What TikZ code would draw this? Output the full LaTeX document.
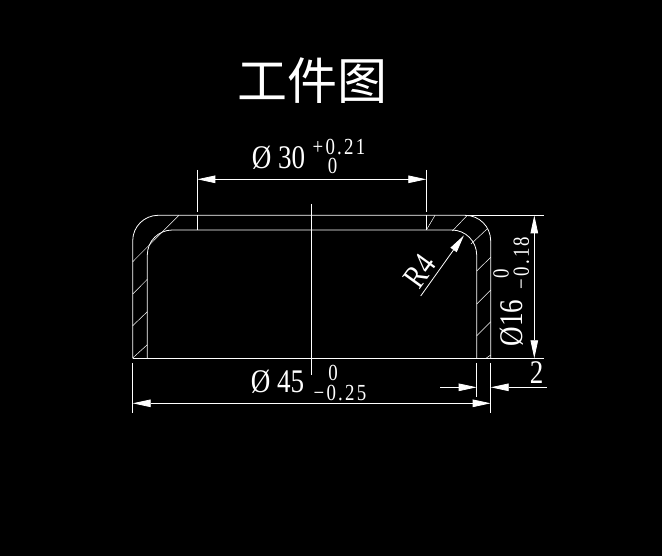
\documentclass[tikz,border=0pt]{standalone}
\usepackage{fontspec}
\setmainfont{Liberation Serif}
\newfontfamily\cjk{Noto Sans CJK SC}
\newfontfamily\tolfont[LetterSpace=12]{Liberation Serif}
\usetikzlibrary{arrows.meta}
\tikzset{
    dimtip/.style={-{Stealth[length=18pt,width=7.5pt,inset=0pt]}},
    dimtips/.style={{Stealth[length=18pt,width=7.5pt,inset=0pt]}-{Stealth[length=18pt,width=7.5pt,inset=0pt]}},
    hatch/.style={line width=0.5pt},
    bigdim/.style={font=\fontsize{33}{33}\selectfont, inner sep=0pt},
    smalldim/.style={font=\fontsize{23}{23}\selectfont\tolfont, inner sep=0pt}
}
\newcommand{\narrow}[1]{\scalebox{0.82}[1]{#1}}
\begin{document}
\begin{tikzpicture}[x=1pt, y=-1pt, color=white, line width=0.8pt]
    \fill[black] (0,0) rectangle (662,556);
    \useasboundingbox (0,0) rectangle (662,556);
    % section outline
    \draw[rounded corners=25.5pt] (132.7,358.3) -- (132.7,215.3) -- (490.7,215.3) -- (490.7,358.3);
    \draw[rounded corners=25pt] (147.3,358.3) -- (147.3,230) -- (476.7,230) -- (476.7,358.3);
    \draw (132.7,358.3) -- (544,358.3);
    \draw (465,215.3) -- (544,215.3);
    \draw (311.7,204) -- (311.7,375);
    % hatching
    \draw[hatch] (132.7,261.7) -- (179,215.3);
    \draw[hatch] (132.7,294) -- (147.3,279.3);
    \draw[hatch] (132.7,325.7) -- (147.3,311.7);
    \draw[hatch] (132.7,358) -- (147.3,344.7);
    \draw[hatch] (427,229) -- (435,215.3);
    \draw[hatch] (452.3,231) -- (467.3,215.3);
    \draw[hatch] (471,244) -- (486.7,229.3);
    \draw[hatch] (476.7,271) -- (490.7,257.3);
    \draw[hatch] (476.7,304) -- (490.7,290);
    \draw[hatch] (476.7,335.7) -- (490.7,321.7);
    \draw[hatch] (486,358.3) -- (490.7,355);
    % top dimension
    \draw (197.3,170) -- (197.3,211.7);
    \draw (197.3,215.3) -- (197.3,230);
    \draw (426.3,170) -- (426.3,211.7);
    \draw (426.3,215.3) -- (426.3,230);
    \draw[dimtips] (197.3,179.3) -- (426.3,179.3);
    % bottom dimensions
    \draw (132.7,363) -- (132.7,412.7);
    \draw (490.7,363) -- (490.7,412.7);
    \draw (476.7,363) -- (476.7,396.7);
    \draw[dimtips] (132.7,403.3) -- (490.7,403.3);
    \draw[dimtip] (440,387.3) -- (476.7,387.3);
    \draw[dimtip] (546.7,387.3) -- (490.7,387.3);
    % right dimension
    \draw[dimtips] (534.3,215.3) -- (534.3,358.3);
    % radius
    \draw[dimtip] (420.7,296) -- (464,235.3);
    % labels
    \node[font=\fontsize{50}{50}\selectfont\cjk, inner sep=0pt] (title) at (312,81) {工件图};
    \node[bigdim] (dimtop) at (278.5,158) {\narrow{Ø 30}};
    \node[smalldim] (dimtopup) at (339,147.5) {\narrow{+0.21}};
    \node[smalldim] (dimtoplow) at (332.5,166) {\narrow{0}};
    \node[bigdim] (dimbot) at (277.5,382) {\narrow{Ø 45}};
    \node[smalldim] (dimbotup) at (333,373) {\narrow{0}};
    \node[smalldim] (dimbotlow) at (340,393) {\narrow{−0.25}};
    \node[bigdim, rotate=90] (dimright) at (511.5,323) {\narrow{Ø16}};
    \node[smalldim, rotate=90] (dimrightup) at (501,274) {\narrow{0}};
    \node[smalldim, rotate=90] (dimrightlow) at (521.5,263) {\narrow{−0.18}};
    \node[bigdim] (dimwall) at (536.7,373) {\narrow{2}};
    \node[bigdim, rotate=54] (dimradius) at (419.5,271) {\narrow{R4}};
\end{tikzpicture}
\end{document}
